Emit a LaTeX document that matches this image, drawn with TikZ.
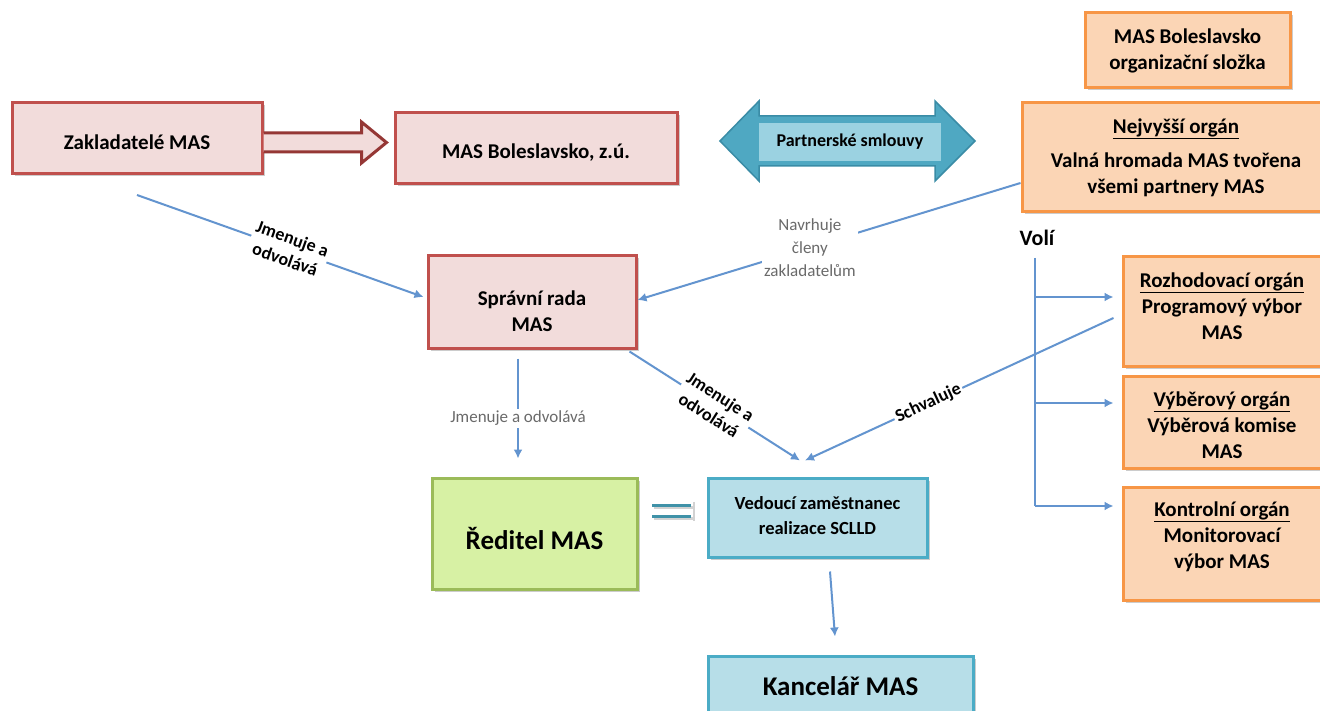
\documentclass[tikz,border=0pt]{standalone}
\usepackage{fontspec}
\setmainfont{Carlito}
\usetikzlibrary{calc,arrows.meta,shadows}
\definecolor{pinkfill}{HTML}{F2DCDB}
\definecolor{redline}{HTML}{C0504D}
\definecolor{darkredline}{HTML}{953735}
\definecolor{orfill}{HTML}{FBD5B5}
\definecolor{orline}{HTML}{F79646}
\definecolor{grfill}{HTML}{D7F1A4}
\definecolor{grline}{HTML}{9BBB59}
\definecolor{blfill}{HTML}{B7DEE8}
\definecolor{blline}{HTML}{4BACC6}
\definecolor{arrteal}{HTML}{4FA8C2}
\definecolor{arrtealdark}{HTML}{3A8CA6}
\definecolor{innerteal}{HTML}{9BD2E1}
\definecolor{conncol}{HTML}{6394CF}
\definecolor{graytxt}{HTML}{6A6A6A}
\tikzset{
  boxbase/.style={rectangle, line width=3pt, inner sep=0pt,
    drop shadow={shadow xshift=2.5pt, shadow yshift=-2.5pt, opacity=0.2, fill=black}},
  redbox/.style={boxbase, draw=redline, fill=pinkfill},
  orbox/.style={boxbase, draw=orline, fill=orfill},
  grbox/.style={boxbase, draw=grline, fill=grfill},
  blbox/.style={boxbase, draw=blline, fill=blfill},
  btxt/.style={align=center, font=\fontsize{21}{26}\selectfont\bfseries},
  bigtxt/.style={align=center, font=\fontsize{27}{32}\selectfont\bfseries},
  smalltxt/.style={align=center, font=\fontsize{18.5}{25}\selectfont\bfseries},
  conn/.style={draw=conncol, line width=2pt, -{Latex[length=9pt,width=9pt]}},
  plainline/.style={draw=conncol, line width=2pt},
  blbl/.style={align=center, font=\fontsize{18}{22}\selectfont\bfseries, fill=white, inner sep=2pt},
  glbl/.style={align=center, font=\fontsize{17}{23}\selectfont, text=graytxt, fill=white, inner sep=2pt},
}
\begin{document}
\begin{tikzpicture}[x=1pt,y=-1pt]
\useasboundingbox (0,0) rectangle (1320,711);
\fill[white] (0,0) rectangle (1320,711);

% --- boxes ---
\node[redbox, minimum width=250, minimum height=71] (zak) at (137,138.5) {};
\node[btxt] (zakt) at (137,142) {Zakladatelé MAS};
\node[redbox, minimum width=282, minimum height=71] (mas) at (536,148.5) {};
\node[btxt] (mast) at (536,153) {MAS Boleslavsko, z.ú.};
\node[redbox, minimum width=208, minimum height=92] (spr) at (532,302) {};
\node[btxt] (sprt) at (532,311) {Správní rada\\MAS};

\node[orbox, minimum width=205, minimum height=75] (org) at (1187.5,50.5) {};
\node[btxt] (orgt) at (1187.5,50.5) {MAS Boleslavsko\\organizační složka};
\node[orbox, minimum width=300, minimum height=109] (nej) at (1172,157.5) {};
\node[btxt] (nejt) at (1176,158) {\underline{Nejvyšší orgán}\\[8pt]Valná hromada MAS tvořena\\všemi partnery MAS};
\node[orbox, minimum width=199, minimum height=109] (roz) at (1222.5,311.5) {};
\node[btxt] (rozt) at (1222,306) {\underline{Rozhodovací orgán}\\Programový výbor\\MAS};
\node[orbox, minimum width=199, minimum height=92] (vyb) at (1222.5,422) {};
\node[btxt] (vybt) at (1222,425) {\underline{Výběrový orgán}\\Výběrová komise\\MAS};
\node[orbox, minimum width=199, minimum height=113] (kon) at (1222.5,543.5) {};
\node[btxt] (kont) at (1222,537) {\underline{Kontrolní orgán}\\Monitorovací\\výbor MAS};

\node[grbox, minimum width=205, minimum height=111] (red) at (534.5,533.5) {};
\node[bigtxt] (redt) at (534.5,538) {Ředitel MAS};
\node[blbox, minimum width=219, minimum height=79] (ved) at (817.5,517.5) {};
\node[smalltxt] (vedt) at (817.5,515.5) {Vedoucí zaměstnanec\\realizace SCLLD};
\node[blbox, minimum width=265, minimum height=62] (kan) at (840.5,687) {};
\node[bigtxt] (kant) at (840.5,686) {Kancelář MAS};

% --- hollow arrow Zakladatelé -> MAS Boleslavsko ---
\draw[line width=3pt, draw=darkredline, fill=pinkfill, line join=miter]
  ($(zak.east)+(0,-5.5)$) -- ++(98,0) -- ++(0,-11) -- ++(25,20.5)
  -- ++(-25,20.5) -- ++(0,-11) -- ++(-98,0);

% --- double arrow Partnerské smlouvy ---
\draw[fill=arrteal, draw=arrtealdark, line width=1.5pt, line join=miter]
  (720,141) -- (759,101) -- (759,116) -- (935,116) -- (935,101) -- (975,141)
  -- (935,181) -- (935,166) -- (759,166) -- (759,181) -- cycle;
\node[fill=innerteal, minimum width=182, minimum height=38, inner sep=0pt,
  font=\fontsize{18}{20}\selectfont\bfseries] (par) at (850,142) {Partnerské smlouvy};

% --- = sign ---
\draw[gray!35, line width=3pt] (654,507) -- (694,507);
\draw[gray!35, line width=3pt] (654,518) -- (694,518);
\draw[gray!35, line width=2pt] (694,502) -- (694,521);
\draw[blline!85!black, line width=3pt] (652,505) -- (691,505);
\draw[blline!85!black, line width=3pt] (652,516) -- (691,516);

% --- connectors ---
\coordinate (z1) at (137,195);
\draw[conn] (z1) -- node[pos=0.53, blbl, sloped] {Jmenuje a\\odvolává} ($(spr.west)+(-3,-5)$);

\draw[conn] ($(nej.west)+(0,25.5)$) -- node[pos=0.55, glbl] {Navrhuje\\členy\\zakladatelům} ($(spr.east)+(0,-2)$);

\draw[conn] ($(spr.south)+(-14,9)$) -- node[pos=0.6, glbl] {Jmenuje a odvolává} ($(red.north)+(-16.5,-18)$);

\draw[conn] ($(spr.south east)+(-8,2)$) -- node[blbl, sloped] {Jmenuje a\\odvolává} ($(ved.north)+(-17.5,-16)$);

\draw[conn] ($(roz.west)+(-8,6.5)$) -- node[pos=0.6, blbl, sloped] {Schvaluje} ($(ved.north)+(-12.5,-16)$);

\draw[conn] ($(ved.south)+(12.5,13)$) -- ($(kan.north)+(-5.5,-18)$);

% --- Volí branches ---
\node[font=\fontsize{22}{26}\selectfont\bfseries] (voli) at (1037,238) {Volí};
\coordinate (v0) at (1035,258);
\coordinate (v1) at (1035,297);
\coordinate (v2) at (1035,403);
\coordinate (v3) at (1035,506);
\draw[plainline] (v0) -- (v3);
\draw[conn, shorten >=8pt] (v1) -- (v1 -| roz.west);
\draw[conn, shorten >=8pt] (v2) -- (v2 -| vyb.west);
\draw[conn, shorten >=8pt] (v3) -- (v3 -| kon.west);
\end{tikzpicture}
\end{document}
